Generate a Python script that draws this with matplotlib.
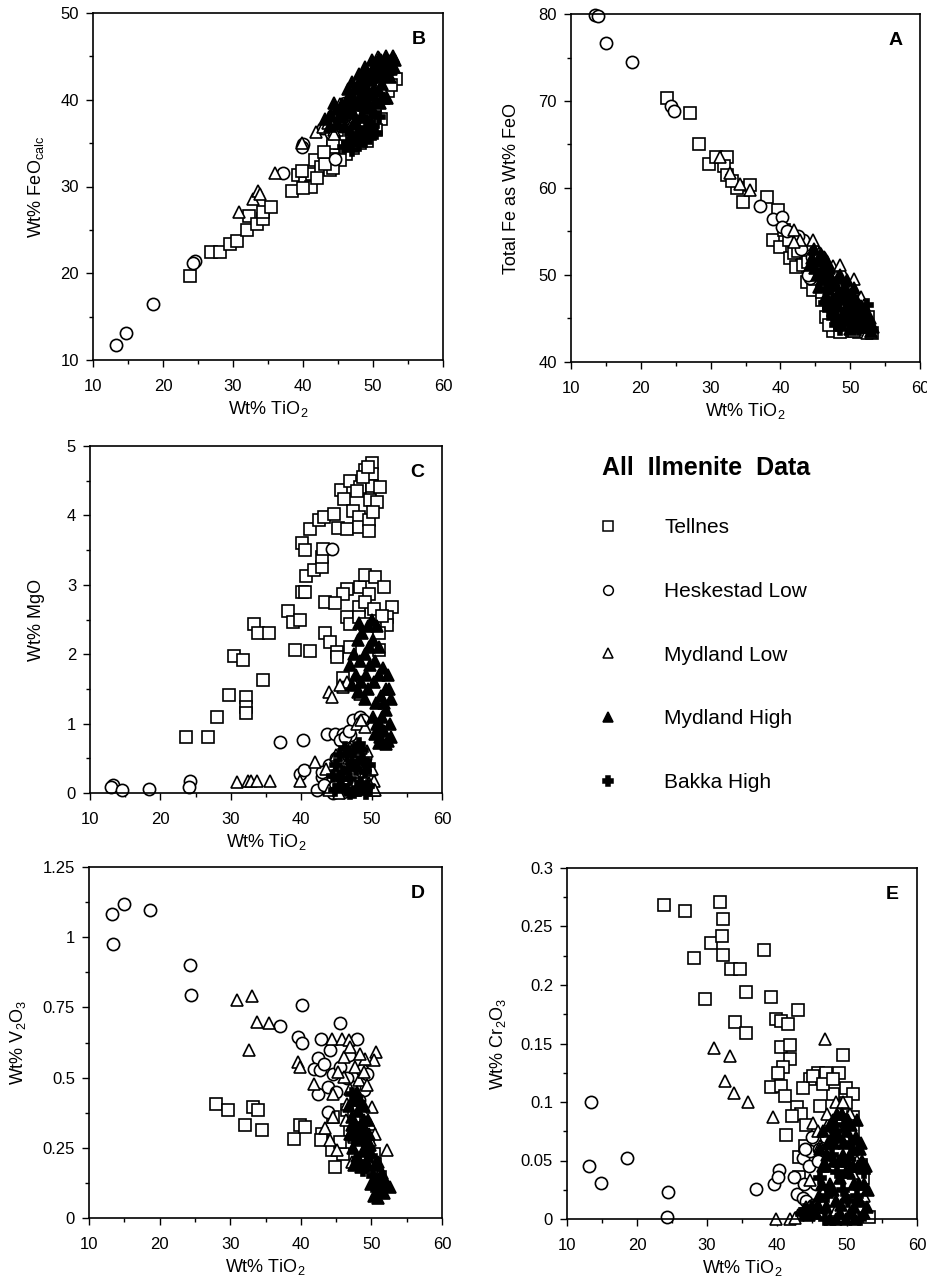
import matplotlib
matplotlib.use("Agg")
import matplotlib.pyplot as plt
from matplotlib.lines import Line2D
from matplotlib.ticker import MultipleLocator, FuncFormatter

plt.rcParams['font.family'] = ['Liberation Sans', 'DejaVu Sans']
plt.rcParams['mathtext.default'] = 'regular'

# ---- Panel B: FeOcalc vs TiO2 ----
b_tellnes = [(23.9, 19.7), (26.8, 22.5), (28.2, 22.4), (29.6, 23.4), (30.6, 23.7), (32.0, 25.0), (32.3, 26.6),
             (33.4, 25.7), (34.3, 26.3), (34.3, 27.1), (35.5, 27.6), (38.4, 29.5), (39.3, 31.3), (40.3, 30.4),
             (41.2, 30.0), (41.3, 31.4), (41.7, 33.1), (42.6, 32.3), (43.8, 31.9), (44.3, 34.6), (45.3, 35.0),
             (46.5, 36.1), (47.2, 36.9), (48.4, 36.9), (49.8, 37.8), (51.2, 37.8), (50.3, 39.2), (52.2, 41.0),
             (53.3, 42.4), (52.6, 41.7), (49.1, 35.3), (48.1, 35.0), (47.2, 34.4), (46.2, 33.8), (45.3, 33.0),
             (44.3, 32.1), (43.1, 32.6), (46.2, 36.1), (44.8, 36.5), (44.3, 35.0), (50.0, 40.0), (51.0, 40.7),
             (42.0, 31.0), (40.0, 29.8), (39.8, 31.8), (43.0, 34.0), (47.5, 38.2), (49.0, 38.5), (50.5, 36.5)]
b_heskestad = [(13.3, 11.7), (14.75, 13.1), (18.55, 16.45), (24.6, 21.4), (24.3, 21.2), (37.2, 31.6),
               (40.0, 34.95), (39.8, 34.6), (44.55, 33.2), (43.6, 37.6), (44.3, 38.2), (45.3, 38.8),
               (46.0, 39.6), (42.9, 36.8), (45.5, 37.0), (44.0, 36.2)]
b_myd_low = [(30.9, 27.1), (32.9, 28.6), (33.6, 29.5), (33.9, 29.1), (36.0, 31.5), (39.8, 35.0), (41.8, 36.3),
             (42.8, 36.9), (44.4, 36.5), (44.5, 36.1), (43.6, 37.3), (46.1, 37.1), (44.5, 38.2), (50.7, 44.9),
             (48.4, 42.6), (46.7, 40.3), (49.1, 39.9), (51.0, 41.9), (45.3, 39.5), (47.5, 38.0)]
b_myd_high = [(44.0, 38.2), (44.8, 38.9), (45.2, 38.0), (45.6, 39.5), (46.0, 38.6), (46.3, 40.0), (46.7, 39.2),
              (47.0, 40.6), (47.2, 38.5), (47.5, 41.2), (47.8, 39.8), (48.0, 41.8), (48.3, 40.5), (48.5, 42.4),
              (48.7, 39.4), (49.0, 41.6), (49.2, 43.0), (49.4, 40.5), (49.7, 42.3), (50.0, 43.6), (50.2, 41.2),
              (50.4, 44.2), (50.6, 42.6), (50.9, 44.8), (51.1, 43.2), (51.3, 41.8), (51.5, 44.0), (51.8, 45.1),
              (52.0, 43.0), (52.3, 44.5), (52.5, 42.6), (52.8, 45.0), (53.0, 43.8), (53.2, 44.6), (47.5, 37.5),
              (48.5, 38.2), (49.5, 39.0), (50.5, 40.0), (46.0, 37.0), (45.0, 37.2), (52.0, 40.2), (51.0, 39.6),
              (43.2, 37.8), (44.5, 39.6), (46.5, 41.2), (48.0, 43.0), (49.8, 44.6), (47.0, 42.0), (48.8, 43.8),
              (50.2, 38.6), (51.6, 40.2), (52.6, 43.6), (43.8, 37.0), (45.6, 38.2), (46.8, 39.8), (48.2, 41.4),
              (49.6, 42.8), (51.2, 44.6), (52.2, 43.6), (50.8, 41.0), (49.0, 40.2), (47.6, 39.4)]
b_bakka = [(46.5, 35.0), (47.0, 34.2), (47.5, 35.6), (48.0, 34.8), (48.4, 36.0), (48.8, 35.2), (49.2, 36.6),
           (49.6, 35.6), (50.0, 37.0), (50.4, 36.2), (47.8, 36.8), (46.8, 36.0), (49.0, 37.6), (50.8, 38.0),
           (45.8, 34.6)]

# ---- Panel A: total Fe as FeO vs TiO2 ----
a_tellnes = [(23.8, 70.4), (27.0, 68.6), (28.3, 65.0), (29.8, 62.8), (30.8, 63.6), (32.3, 63.6), (31.9, 62.5),
             (32.3, 61.5), (33.8, 60.0), (34.7, 58.4), (35.7, 60.3), (38.1, 59.0), (39.7, 57.5), (39.0, 54.0),
             (39.9, 53.2), (41.4, 51.9), (43.8, 49.2), (47.6, 43.6), (49.3, 43.6), (53.1, 43.3), (51.2, 43.5),
             (46.6, 45.2), (45.9, 47.1), (44.7, 48.3), (42.3, 50.9), (41.9, 52.5), (41.2, 54.0), (42.5, 52.8),
             (43.2, 51.2), (44.0, 51.5), (45.0, 49.5), (46.0, 48.0), (47.0, 46.8), (48.0, 45.2), (49.0, 44.5),
             (50.0, 45.0), (51.0, 45.5), (52.0, 44.0), (52.6, 45.2), (50.5, 43.6), (47.0, 44.2), (48.5, 43.5),
             (40.5, 55.2), (33.0, 60.8)]
a_heskestad = [(13.5, 79.9), (13.8, 79.8), (15.0, 76.7), (18.7, 74.5), (24.3, 69.4), (24.7, 68.9), (37.1, 57.9),
               (39.0, 56.4), (40.2, 56.7), (40.2, 55.5), (43.8, 53.6), (43.3, 54.0), (44.3, 49.6), (44.5, 52.1),
               (45.7, 51.3), (42.5, 54.5), (43.0, 53.0), (45.0, 52.8), (46.0, 51.8), (44.0, 50.0), (47.5, 50.5),
               (49.0, 49.0), (48.0, 47.0), (41.0, 55.0)]
a_myd_low = [(31.4, 63.6), (32.8, 61.7), (34.2, 60.5), (35.7, 59.8), (41.9, 55.2), (42.8, 54.0), (46.2, 52.1),
             (49.0, 50.2), (52.4, 43.3), (44.7, 54.0), (46.6, 50.9), (45.5, 52.5), (47.5, 51.0), (48.5, 51.2),
             (50.5, 49.5), (51.5, 47.5), (52.0, 46.5), (53.0, 43.5), (42.0, 53.8)]
a_myd_high = [(44.5, 52.0), (45.0, 50.8), (45.5, 51.6), (46.0, 49.5), (46.2, 51.0), (46.6, 50.2), (47.0, 48.4),
              (47.3, 49.8), (47.6, 47.2), (48.0, 48.8), (48.2, 46.4), (48.5, 50.0), (48.8, 47.6), (49.0, 45.5),
              (49.3, 48.6), (49.6, 46.6), (49.9, 44.8), (50.2, 47.8), (50.5, 45.8), (50.8, 44.3), (51.0, 47.0),
              (51.3, 45.2), (51.6, 46.4), (51.9, 44.6), (52.2, 45.6), (52.5, 44.0), (52.8, 45.0), (53.0, 43.6),
              (47.8, 45.8), (48.5, 44.5), (50.0, 43.8), (46.5, 47.6), (45.5, 48.6), (49.5, 49.4), (50.5, 48.5),
              (45.2, 50.0), (46.8, 48.8), (48.2, 47.8), (49.4, 47.4), (50.8, 46.8), (52.0, 45.0), (46.4, 52.0),
              (44.2, 51.2), (44.8, 53.0), (45.8, 50.2), (46.8, 51.4), (47.4, 48.9), (48.2, 49.6), (49.0, 48.2),
              (49.8, 47.6), (50.4, 47.0), (51.2, 46.0), (51.6, 44.0), (52.6, 44.8), (53.2, 44.0), (47.2, 46.6),
              (48.8, 45.0), (50.0, 45.6), (45.8, 52.4), (47.0, 50.8)]
a_bakka = [(47.0, 46.0), (47.5, 45.0), (48.0, 44.2), (48.6, 43.8), (49.0, 47.2), (49.6, 45.2), (50.2, 46.4),
           (50.6, 44.4), (51.2, 43.8), (46.4, 46.8), (51.8, 45.8), (52.4, 46.6)]

# ---- Panel C: MgO vs TiO2 ----
c_tellnes = [(23.6, 0.81), (26.7, 0.81), (28.0, 1.10), (29.7, 1.41), (30.5, 1.98), (31.8, 1.92), (32.2, 1.38),
             (32.2, 1.24), (32.2, 1.15), (33.3, 2.43), (33.9, 2.30), (34.6, 1.63), (35.4, 2.30), (38.1, 2.62),
             (38.9, 2.47), (39.9, 2.49), (39.1, 2.06), (41.3, 2.05), (40.1, 2.90), (40.6, 2.90), (40.1, 3.60),
             (40.6, 3.50), (40.7, 3.12), (41.8, 3.21), (43.0, 3.26), (43.0, 3.40), (43.1, 3.52), (41.3, 3.81),
             (42.5, 3.94), (43.3, 3.97), (44.6, 4.02), (45.6, 4.36), (46.1, 4.24), (45.2, 3.82), (46.5, 3.81),
             (47.4, 4.07), (46.9, 4.50), (48.2, 3.98), (48.2, 3.83), (48.4, 4.41), (49.1, 4.65), (50.0, 4.75),
             (50.0, 4.60), (50.0, 4.43), (51.2, 4.41), (49.8, 4.22), (50.7, 4.19), (49.7, 3.93), (49.7, 3.77),
             (48.4, 2.97), (49.1, 3.14), (50.5, 3.11), (49.6, 2.87), (51.7, 2.97), (52.9, 2.68), (52.2, 2.54),
             (52.2, 2.42), (51.0, 2.30), (51.0, 2.06), (46.5, 2.94), (46.0, 2.87), (43.4, 2.75), (44.8, 2.74),
             (46.5, 2.54), (47.0, 2.44), (48.2, 2.68), (43.4, 2.30), (44.1, 2.18), (45.1, 2.03), (45.1, 1.96),
             (46.0, 1.65), (47.0, 2.10), (48.2, 2.54), (49.1, 2.44), (48.8, 4.55), (49.5, 4.70), (47.9, 4.35),
             (50.2, 4.05), (49.0, 2.75), (50.3, 2.65), (51.5, 2.55)]
c_heskestad = [(13.2, 0.11), (13.0, 0.08), (14.6, 0.04), (18.4, 0.06), (24.2, 0.18), (24.0, 0.09), (37.0, 0.73),
               (40.2, 0.77), (39.9, 0.28), (40.4, 0.33), (42.2, 0.04), (44.4, 3.52), (43.6, 0.85), (44.8, 0.85),
               (46.0, 0.85), (47.0, 0.83), (47.4, 1.05), (48.4, 1.10), (45.5, 0.76), (42.9, 0.23), (43.0, 0.30),
               (43.5, 0.10), (44.0, 0.40), (44.5, 0.20), (45.0, 0.50), (45.5, 0.30), (46.0, 0.55), (46.5, 0.15),
               (47.0, 0.40), (47.5, 0.10), (48.0, 0.55), (48.5, 0.30), (44.5, 0.00), (46.0, 0.02), (49.0, 0.50),
               (43.2, 0.12), (46.2, 0.80), (46.8, 0.90), (48.8, 1.05)]
c_myd_low = [(30.9, 0.16), (32.5, 0.18), (32.8, 0.18), (33.7, 0.18), (35.6, 0.18), (39.9, 0.18), (43.9, 1.46),
             (44.4, 1.38), (46.0, 1.53), (47.4, 1.62), (48.4, 1.43), (47.9, 1.00), (49.1, 0.95), (50.3, 0.04),
             (50.3, 0.18), (49.8, 0.33), (42.0, 0.45), (45.5, 0.37), (46.5, 0.23), (47.9, 0.61), (48.9, 0.42),
             (44.6, 0.16), (43.5, 0.35), (44.0, 0.05), (44.8, 0.30), (45.3, 0.00), (45.8, 0.45), (46.2, 0.20),
             (46.8, 0.50), (47.3, 0.30), (47.8, 0.05), (48.3, 0.40), (48.8, 0.25), (49.3, 0.60), (49.6, 0.15),
             (50.0, 0.35), (50.5, 0.05), (48.5, 0.65), (47.0, 0.65), (45.0, 0.55), (48.5, 1.05), (46.5, 1.60),
             (45.5, 1.55)]
c_myd_high = [(47.5, 2.0), (47.8, 1.7), (48.0, 2.2), (48.3, 1.9), (48.5, 1.6), (48.7, 2.3), (49.0, 2.0),
              (49.2, 1.7), (49.5, 2.4), (49.7, 2.1), (50.0, 2.5), (50.2, 2.2), (50.5, 1.9), (50.8, 2.4),
              (51.0, 2.1), (48.0, 1.45), (49.0, 1.35), (50.3, 1.6), (50.6, 1.3), (50.8, 1.0), (51.0, 1.7),
              (51.2, 0.8), (51.3, 1.4), (51.5, 1.1), (51.6, 1.8), (52.0, 1.5), (52.1, 1.2), (52.3, 0.75),
              (52.4, 1.7), (52.6, 1.0), (52.8, 1.35), (50.5, 0.85), (51.0, 0.72), (52.0, 0.7), (52.7, 0.8),
              (50.2, 1.1), (51.8, 0.9), (49.5, 1.5), (47.2, 1.55), (48.2, 2.45), (47.0, 1.85), (49.8, 1.85),
              (51.8, 1.3), (51.4, 0.95), (52.5, 1.5)]
c_bakka = [(46.5, 0.55), (47.5, 0.60), (48.0, 0.45), (48.6, 0.62), (46.0, 0.30), (47.0, 0.20), (47.8, 0.35),
           (48.5, 0.15), (49.0, 0.30), (45.5, 0.10), (46.5, 0.05), (47.5, 0.02), (49.5, 0.10), (45.0, 0.40),
           (48.2, 0.70), (44.5, 0.25), (45.5, 0.55), (46.2, 0.65), (47.2, 0.45), (48.8, 0.48), (49.6, 0.40),
           (46.8, 0.35), (45.8, 0.20), (44.8, 0.05), (48.0, 0.05), (49.2, 0.00), (47.0, 0.00)]

# ---- Panel D: V2O3 vs TiO2 ----
d_tellnes = [(28.0, 0.407), (29.7, 0.383), (32.1, 0.330), (33.3, 0.395), (34.0, 0.383), (34.5, 0.315),
             (39.1, 0.280), (39.9, 0.330), (40.6, 0.324), (43.0, 0.300), (42.8, 0.277), (44.4, 0.241),
             (44.9, 0.182), (46.0, 0.229), (47.0, 0.312), (48.4, 0.277), (50.3, 0.229), (50.5, 0.193),
             (51.2, 0.146), (44.6, 0.360), (46.5, 0.383), (47.5, 0.360), (45.5, 0.270), (49.5, 0.250)]
d_heskestad = [(13.3, 1.081), (13.4, 0.977), (14.9, 1.117), (18.6, 1.096), (24.3, 0.902), (24.4, 0.795),
               (40.2, 0.757), (39.6, 0.645), (40.1, 0.624), (37.1, 0.683), (45.6, 0.696), (42.8, 0.639),
               (47.9, 0.636), (42.5, 0.571), (41.8, 0.532), (42.7, 0.526), (42.5, 0.440), (43.9, 0.378),
               (44.6, 0.514), (43.9, 0.467), (45.6, 0.538), (48.6, 0.526), (48.9, 0.455), (47.5, 0.467),
               (49.4, 0.514), (48.2, 0.419), (43.3, 0.550), (44.2, 0.600), (46.5, 0.500), (45.0, 0.450),
               (46.8, 0.580)]
d_myd_low = [(30.9, 0.778), (33.1, 0.791), (32.6, 0.600), (33.8, 0.698), (35.5, 0.696), (39.6, 0.556),
             (39.9, 0.538), (44.4, 0.636), (45.8, 0.636), (46.8, 0.633), (50.6, 0.591), (50.3, 0.561),
             (49.1, 0.567), (52.2, 0.241), (50.1, 0.395), (41.8, 0.478), (43.4, 0.320), (44.1, 0.277),
             (45.1, 0.241), (46.1, 0.573), (47.0, 0.609), (47.7, 0.538), (48.4, 0.585), (44.6, 0.443),
             (46.1, 0.502), (47.0, 0.461), (48.2, 0.490), (49.4, 0.472), (46.5, 0.407), (47.7, 0.431),
             (48.9, 0.300), (49.8, 0.336), (49.8, 0.277), (44.6, 0.360), (47.5, 0.288), (50.1, 0.182),
             (45.3, 0.520), (46.4, 0.350), (49.0, 0.520), (50.5, 0.300), (47.2, 0.200)]
d_myd_high = [(46.8, 0.40), (47.0, 0.30), (47.2, 0.36), (47.4, 0.25), (47.6, 0.42), (47.8, 0.32), (48.0, 0.22),
              (48.1, 0.38), (48.3, 0.28), (48.5, 0.18), (48.6, 0.34), (48.8, 0.24), (49.0, 0.40), (49.1, 0.30),
              (49.3, 0.20), (49.5, 0.35), (47.5, 0.19), (48.0, 0.45), (49.8, 0.26), (50.0, 0.12), (50.3, 0.08),
              (50.6, 0.14), (50.9, 0.07), (51.2, 0.11), (51.5, 0.16), (51.8, 0.09), (52.2, 0.12), (52.6, 0.11),
              (50.5, 0.19), (51.0, 0.20), (47.3, 0.33), (48.4, 0.42), (48.9, 0.35), (49.6, 0.30), (49.2, 0.25),
              (48.7, 0.29)]
d_bakka = [(47.6, 0.28), (48.2, 0.20), (48.8, 0.17), (49.4, 0.23), (50.2, 0.15), (50.8, 0.10), (51.4, 0.13),
           (50.0, 0.22), (48.4, 0.32), (47.2, 0.44)]

# ---- Panel E: Cr2O3 vs TiO2 ----
e_tellnes = [(23.9, 0.268), (26.9, 0.263), (28.1, 0.223), (29.7, 0.188), (30.5, 0.236), (31.9, 0.271),
             (32.3, 0.256), (32.2, 0.242), (32.3, 0.226), (33.4, 0.214), (34.7, 0.214), (34.0, 0.168),
             (35.5, 0.194), (35.5, 0.159), (38.1, 0.230), (39.2, 0.190), (39.8, 0.171), (40.6, 0.169),
             (41.6, 0.167), (43.0, 0.179), (40.6, 0.147), (41.9, 0.149), (41.8, 0.137), (40.8, 0.130),
             (40.1, 0.125), (39.2, 0.113), (40.6, 0.114), (41.1, 0.105), (41.3, 0.072), (42.9, 0.096),
             (43.4, 0.090), (44.2, 0.080), (44.7, 0.120), (43.7, 0.112), (45.9, 0.125), (47.0, 0.125),
             (48.9, 0.125), (49.4, 0.140), (49.9, 0.112), (50.9, 0.107), (50.9, 0.087), (50.9, 0.075),
             (49.9, 0.099), (46.1, 0.097), (43.2, 0.053), (43.2, 0.036), (52.0, 0.046), (52.3, 0.035),
             (53.1, 0.002), (48.0, 0.107), (45.1, 0.122), (42.2, 0.088), (44.0, 0.062), (46.5, 0.115),
             (48.0, 0.120), (49.5, 0.085), (52.0, 0.015)]
e_heskestad = [(13.4, 0.100), (13.2, 0.045), (14.8, 0.031), (18.5, 0.052), (24.4, 0.023), (24.3, 0.002),
               (37.0, 0.026), (39.5, 0.030), (40.3, 0.042), (40.2, 0.036), (42.4, 0.036), (42.8, 0.021),
               (43.7, 0.018), (43.7, 0.052), (44.7, 0.058), (44.0, 0.060), (44.6, 0.045), (45.0, 0.070),
               (45.5, 0.030), (46.0, 0.060), (44.2, 0.015), (43.8, 0.030), (45.2, 0.012), (46.5, 0.010),
               (47.0, 0.070), (45.8, 0.050)]
e_myd_low = [(31.0, 0.146), (33.3, 0.139), (32.6, 0.118), (33.8, 0.108), (35.9, 0.100), (39.4, 0.087),
             (46.8, 0.154), (39.9, 0.000), (41.8, 0.000), (44.2, 0.010), (44.7, 0.033), (45.1, 0.082),
             (46.1, 0.062), (47.5, 0.085), (48.9, 0.076), (49.9, 0.068), (50.9, 0.039), (46.6, 0.022),
             (48.5, 0.008), (51.8, 0.011), (45.8, 0.075), (47.2, 0.090), (48.5, 0.100), (49.5, 0.100),
             (50.5, 0.090), (51.5, 0.050), (52.5, 0.020), (43.0, 0.003), (42.5, 0.001)]
e_myd_high = [(45.5, 0.005), (46.0, 0.020), (46.5, 0.045), (47.0, 0.010), (47.3, 0.065), (47.6, 0.030),
              (48.0, 0.085), (48.2, 0.050), (48.5, 0.015), (48.8, 0.070), (49.0, 0.035), (49.3, 0.090),
              (49.5, 0.055), (49.8, 0.020), (50.0, 0.075), (50.3, 0.040), (50.5, 0.005), (50.8, 0.060),
              (51.0, 0.030), (51.3, 0.070), (51.6, 0.045), (51.9, 0.015), (52.2, 0.050), (52.5, 0.030),
              (52.8, 0.010), (47.0, 0.045), (48.0, 0.025), (49.0, 0.005), (50.0, 0.050), (51.0, 0.010),
              (44.5, 0.003), (46.5, 0.075), (52.0, 0.065), (47.8, 0.070), (49.6, 0.065), (50.6, 0.080),
              (46.2, 0.060), (51.8, 0.060), (48.6, 0.090), (45.8, 0.012), (46.4, 0.030), (47.2, 0.055),
              (47.5, 0.000), (48.2, 0.065), (48.9, 0.050), (49.2, 0.012), (49.8, 0.040), (50.4, 0.055),
              (50.9, 0.045), (51.2, 0.000), (51.7, 0.030), (52.4, 0.005), (52.7, 0.045), (48.4, 0.000),
              (49.9, 0.000), (47.6, 0.080), (50.2, 0.085), (51.4, 0.085), (53.0, 0.025)]
e_bakka = [(45.0, 0.010), (46.2, 0.035), (47.2, 0.020), (47.8, 0.055), (48.6, 0.040), (49.4, 0.025),
           (50.2, 0.015), (50.6, 0.065), (51.4, 0.020), (52.4, 0.040), (48.4, 0.075), (49.6, 0.080),
           (43.5, 0.004), (44.0, 0.008), (46.8, 0.000), (51.8, 0.000)]

series_names = ["Tellnes", "Heskestad Low", "Mydland Low", "Mydland High", "Bakka High"]
series_marker = ["s", "o", "^", "^", "P"]
series_face = ["white", "white", "white", "black", "black"]
series_size = [8.0, 8.8, 9.2, 9.2, 9.0]

W, H = 928, 1282


def px_rect(left, top, right, bottom):
    return [left / W, 1 - bottom / H, (right - left) / W, (bottom - top) / H]


panels = [
    dict(rect=(93, 13, 443, 360), data=[b_tellnes, b_heskestad, b_myd_low, b_myd_high, b_bakka],
         ylim=(10, 50), ymaj=10, ymin=5, ylabel=r"Wt% FeO$_{calc}$", letter="B", ylab_x=-0.134),
    dict(rect=(571, 14, 920, 362), data=[a_tellnes, a_heskestad, a_myd_low, a_myd_high, a_bakka],
         ylim=(40, 80), ymaj=10, ymin=5, ylabel="Total Fe as Wt% FeO", letter="A", ylab_x=-0.146),
    dict(rect=(90, 446, 442, 793), data=[c_tellnes, c_heskestad, c_myd_low, c_myd_high, c_bakka],
         ylim=(0, 5), ymaj=1, ymin=0.5, ylabel="Wt% MgO", letter="C", ylab_x=-0.128),
    dict(rect=(89, 867, 442, 1218), data=[d_tellnes, d_heskestad, d_myd_low, d_myd_high, d_bakka],
         ylim=(0, 1.25), ymaj=0.25, ymin=0.125, ylabel=r"Wt% V$_2$O$_3$", letter="D", ylab_x=-0.173),
    dict(rect=(567, 868, 917, 1219), data=[e_tellnes, e_heskestad, e_myd_low, e_myd_high, e_bakka],
         ylim=(0, 0.3), ymaj=0.05, ymin=0.025, ylabel=r"Wt% Cr$_2$O$_3$", letter="E", ylab_x=-0.169),
]

fig = plt.figure(figsize=(W / 100, H / 100), dpi=100)

for p in panels:
    ax = fig.add_axes(px_rect(*p["rect"]))
    for pts, m, fc, ms in zip(p["data"], series_marker, series_face, series_size):
        xs = [q[0] for q in pts]
        ys = [q[1] for q in pts]
        ax.plot(xs, ys, ls="none", marker=m, ms=ms, mfc=fc, mec="black", mew=1.2, clip_on=False)
    ax.set_xlim(10, 60)
    ax.set_ylim(*p["ylim"])
    ax.xaxis.set_major_locator(MultipleLocator(10))
    ax.xaxis.set_minor_locator(MultipleLocator(5))
    ax.yaxis.set_major_locator(MultipleLocator(p["ymaj"]))
    ax.yaxis.set_minor_locator(MultipleLocator(p["ymin"]))
    ax.yaxis.set_major_formatter(FuncFormatter(lambda v, pos: f"{v:g}"))
    ax.tick_params(which="both", direction="out", top=False, right=False, width=1.0, labelsize=12)
    ax.tick_params(which="major", length=5)
    ax.tick_params(which="minor", length=3)
    ax.tick_params(axis="x", pad=9)
    ax.tick_params(axis="y", pad=5)
    for s in ax.spines.values():
        s.set_linewidth(1.2)
    ax.set_xlabel(r"Wt% TiO$_2$", fontsize=13)
    ax.set_ylabel(p["ylabel"], fontsize=13)
    ax.xaxis.set_label_coords(0.5, -0.112)
    ax.yaxis.set_label_coords(p["ylab_x"], 0.5)
    ax.text(0.93, 0.925, p["letter"], transform=ax.transAxes, ha="center", va="center",
            fontsize=14, fontweight="bold")

# legend block
fig.text(706 / W, 1 - 468 / H, "All  Ilmenite  Data", ha="center", va="center",
         fontsize=18, fontweight="bold")
handles = [Line2D([], [], ls="none", marker=m, ms=7.0, mfc=fc, mec="black", mew=1.1)
           for m, fc in zip(series_marker, series_face)]
fig.legend(handles, series_names, loc="upper left", bbox_to_anchor=(598 / W, 1 - 518 / H),
           frameon=False, fontsize=15, labelspacing=2.15, handlelength=1.0, handletextpad=2.17,
           borderpad=0, borderaxespad=0)

fig.savefig("out.png", dpi=100)
